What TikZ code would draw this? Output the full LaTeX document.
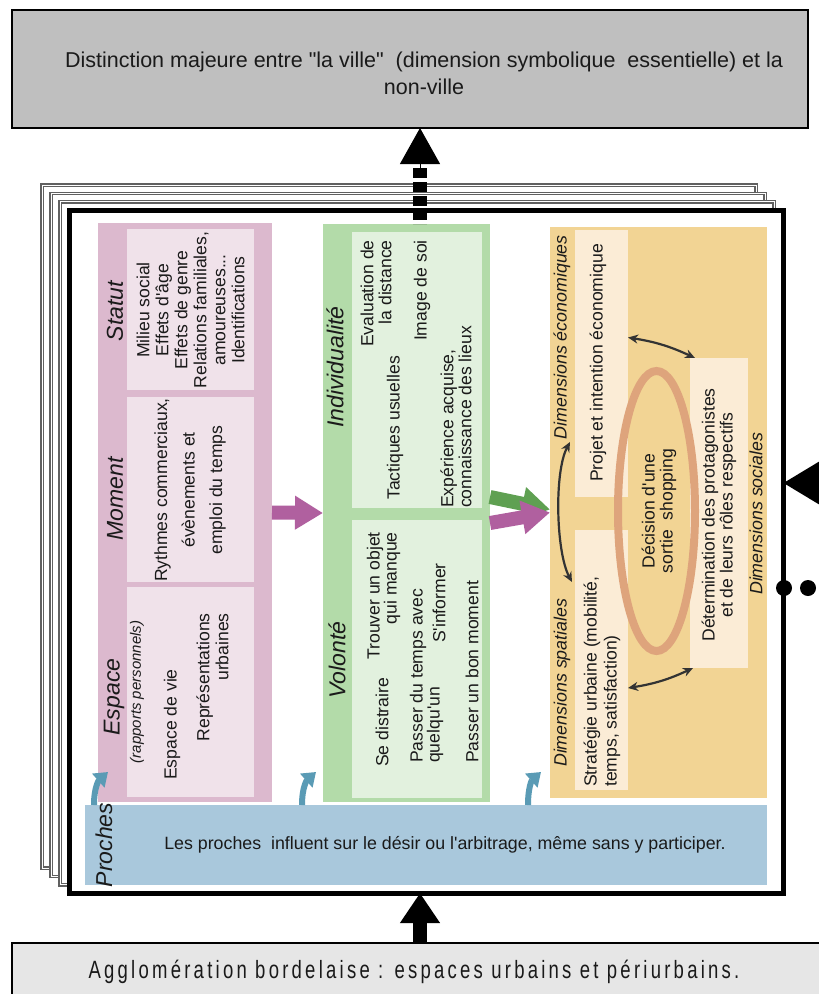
\documentclass[tikz,border=0pt]{standalone}
\usepackage{fontspec}
\setmainfont{Liberation Sans}[Ligatures=TeXOff]
\newfontfamily\condfont[FakeStretch=0.74,LetterSpace=13]{Liberation Sans}
\usetikzlibrary{fit,arrows.meta}
\definecolor{topgray}{HTML}{BFBFBF}
\definecolor{botgray}{HTML}{E6E6E6}
\definecolor{pinkout}{HTML}{DCB9CE}
\definecolor{pinkin}{HTML}{F0E2EA}
\definecolor{greenout}{HTML}{B3DBA9}
\definecolor{greenin}{HTML}{E2F1DE}
\definecolor{orangeout}{HTML}{F2D494}
\definecolor{orangein}{HTML}{FBECD6}
\definecolor{ellcol}{HTML}{DEA47C}
\definecolor{bandblue}{HTML}{A9C8DC}
\definecolor{arrblue}{HTML}{5A9BB5}
\definecolor{arrpink}{HTML}{B0609F}
\definecolor{arrgreen}{HTML}{5FA052}
\definecolor{framegray}{HTML}{606060}
\definecolor{txt}{HTML}{1A1A1A}
\newcommand\fsz[2]{\fontsize{#1}{#2}\selectfont}
\begin{document}
\begin{tikzpicture}[x=1pt,y=-1pt,
  panel/.style={inner sep=0pt, outer sep=0pt},
  rot/.style={rotate=90, inner sep=0pt, text=txt},
  body/.style={rot, font=\fsz{17.6}{19}},
  ttl/.style={rot, font=\fsz{23}{26}\itshape},
  dimlab/.style={rot, font=\fsz{17.8}{20}\itshape},
  gframe/.style={draw=framegray, line width=1.4pt, double=white, double distance=1pt, fill=white},
  bluearr/.style={draw=arrblue, line width=6pt, -{Triangle[length=13pt,width=18pt]}},
  twoway/.style={draw=black!80, line width=2.2pt, {Stealth[length=10pt,width=9pt]}-{Stealth[length=10pt,width=9pt]}},
  bigarr/.style={line width=14pt, -{Triangle[length=28pt,width=32pt]}}
]
\useasboundingbox (0,0) rectangle (819,994);
\clip (0,0) rectangle (819,994);

% top and bottom boxes
\node[panel, fit={(12,10)(808,128)}, fill=topgray, draw=black, line width=2pt] (topbox) {};
\node[font=\fsz{21.5}{27}, align=center, text=txt] (toptext) at (424,73) {Distinction majeure entre "la ville"~ (dimension symbolique~ essentielle) et la\\non-ville};
\node[panel, fit={(12,943)(840,1010)}, fill=botgray, draw=black, line width=2pt] (botbox) {};
\node[font=\condfont\fsz{25}{27}, text=txt] (bottext) at (414,972) {Agglomération bordelaise : espaces urbains et périurbains.};

% stacked frames
\foreach \k in {3,2,1} {
  \draw[gframe] ({69-9*\k},{210-8.3*\k}) rectangle ({783-9*\k},{893-8.3*\k});
}
\node[panel, fit={(69,210)(783,893)}, draw=black, line width=5pt, fill=white] (frame) {};

% pink panel
\node[panel, fit={(98,223)(272,802)}, fill=pinkout] (esp) {};
\node[panel, fit={(127,229)(254,390)}, fill=pinkin] (statut) {};
\node[panel, fit={(127,397)(254,582)}, fill=pinkin] (moment) {};
\node[panel, fit={(127,587)(254,797)}, fill=pinkin] (espace) {};
\node[ttl] (tstatut) at (115,311) {Statut};
\node[ttl] (tmoment) at (115,499) {Moment};
\node[ttl] (tespace) at (114,697) {Espace};
\node[rot, font=\fsz{15}{17}\itshape] (trap) at (137,692) {(rapports personnels)};
\node[body, align=center] (xstatut) at (190.5,310) {Milieu social\\Effets d'âge\\Effets de genre\\Relations familiales,\\amoureuses...\\Identifications};
\node[body, align=center, font=\fsz{17.6}{27.5}] (xmoment) at (190,490) {Rythmes commerciaux,\\évènements et\\emploi du temps};
\node[body, anchor=west] (xvie) at (172,780) {Espace de vie};
\node[body, anchor=east, align=right] (xrep) at (212.5,613) {Représentations\\urbaines};

% green panel
\node[panel, fit={(323,224)(490,802)}, fill=greenout] (ind) {};
\node[panel, fit={(352,232)(482,508)}, fill=greenin] (indin) {};
\node[panel, fit={(352,520)(482,798)}, fill=greenin] (vol) {};
\node[ttl] (tind) at (335,367) {Individualité};
\node[ttl] (tvol) at (337,660) {Volonté};
\node[body, anchor=east, align=right, font=\fsz{17.6}{18}] (xeval) at (376,240) {Evaluation de\\la distance};
\node[body, anchor=east] (ximage) at (422,240) {Image de soi};
\node[body, anchor=west] (xtact) at (395,500) {Tactiques usuelles};
\node[body, anchor=west, align=left, font=\fsz{17.6}{18}] (xexp) at (456,508) {Expérience acquise,\\connaissance des lieux};
\node[body, anchor=west] (xdist) at (382,767) {Se distraire};
\node[body, anchor=east, align=right, font=\fsz{17.6}{17}] (xtrouv) at (383.5,532) {Trouver un objet\\qui manque};
\node[body, anchor=west, align=left, font=\fsz{17.6}{17}] (xpass) at (426.5,763) {Passer du temps avec\\quelqu'un};
\node[body] (xinf) at (439,603) {S'informer};
\node[body, anchor=west] (xbon) at (472,763) {Passer un bon moment};

% orange panel
\node[panel, fit={(550,227)(767,798)}, fill=orangeout] (eco) {};
\node[panel, fit={(575,230)(628,497)}, fill=orangein] (proj) {};
\node[panel, fit={(575,530)(628,790)}, fill=orangein] (strat) {};
\node[panel, fit={(690,358)(748,668)}, fill=orangein] (det) {};
\draw[ellcol, line width=8pt] (656.5,511) ellipse [x radius=38.5, y radius=140];
\node[body, align=center, font=\fsz{17.6}{18}] (xdec) at (659,511) {Décision d'une\\sortie~ shopping};
\node[body] (xproj) at (598,363) {Projet et intention économique};
\node[body, anchor=west, align=left, font=\fsz{17.6}{20}] (xstrat) at (602,787) {Stratégie urbaine (mobilité,\\temps, satisfaction)};
\node[body, align=center, font=\fsz{17.6}{18}] (xdet) at (719,515) {Détermination des protagonistes\\et de leurs rôles respectifs};
\node[dimlab, anchor=east] (deco) at (562,235) {Dimensions économiques};
\node[dimlab, anchor=west] (dspa) at (562,767) {Dimensions spatiales};
\node[dimlab, anchor=west] (dsoc) at (756,595) {Dimensions sociales};

\draw[twoway] ([yshift=26pt]proj.east) to[bend left=8] ([xshift=5pt]det.north west);
\draw[twoway] ([yshift=-28pt]strat.east) to[bend right=8] ([xshift=3pt]det.south west);
\draw[twoway] ([shift={(-5pt,55pt)}]proj.south west) .. controls +(-16,30) and +(-16,-30) .. ([shift={(-3pt,-52pt)}]strat.north west);

% proches band
\node[panel, fit={(85,805)(767,885)}, fill=bandblue] (band) {};
\node[ttl] (tproches) at (104,845) {Proches};
\node[font=\fsz{17.8}{20}, text=txt] (xband) at (445,845) {Les proches~ influent sur le désir ou l'arbitrage, même sans y participer.};

\draw[bluearr] ([xshift=9pt]band.north west) .. controls +(0,-18) and +(-9,8) .. ([shift={(10pt,30pt)}]esp.south west);
\draw[bluearr] ([xshift=217pt]band.north west) .. controls +(0,-18) and +(-9,8) .. ([shift={(-7pt,30pt)}]ind.south west);
\draw[bluearr] ([xshift=443pt]band.north west) .. controls +(0,-18) and +(-9,8) .. ([shift={(-9pt,26pt)}]eco.south west);

% block arrows between panels
\draw[bigarr, arrpink] (esp.east) -- (ind.west);
\draw[bigarr, arrgreen] ([yshift=16pt]ind.east) -- ([yshift=3pt]eco.west);
\draw[bigarr, arrpink] ([yshift=-10pt]ind.east) -- ([yshift=0pt]eco.west);

% black arrows
\coordinate (upfrom) at (420,224);
\coordinate (uphead) at (420,168);
\draw[black, line width=14pt, dash pattern=on 10pt off 4pt] (uphead) -- (upfrom);
\draw[black, line width=1pt, -{Triangle[length=36pt,width=40pt]}] (uphead) -- (uphead |- topbox.south);
\draw[black, line width=14pt, -{Triangle[length=30pt,width=38pt]}] (botbox.north -| upfrom) -- (frame.south -| upfrom);
\coordinate (rightfrom) at (880,483);
\draw[black, line width=14pt, -{Triangle[length=36pt,width=40pt]}] (rightfrom) -- (frame.east |- rightfrom);
\fill[black] (784,588) circle (8) (808,588) circle (8) (833,588) circle (8);
\end{tikzpicture}
\end{document}
